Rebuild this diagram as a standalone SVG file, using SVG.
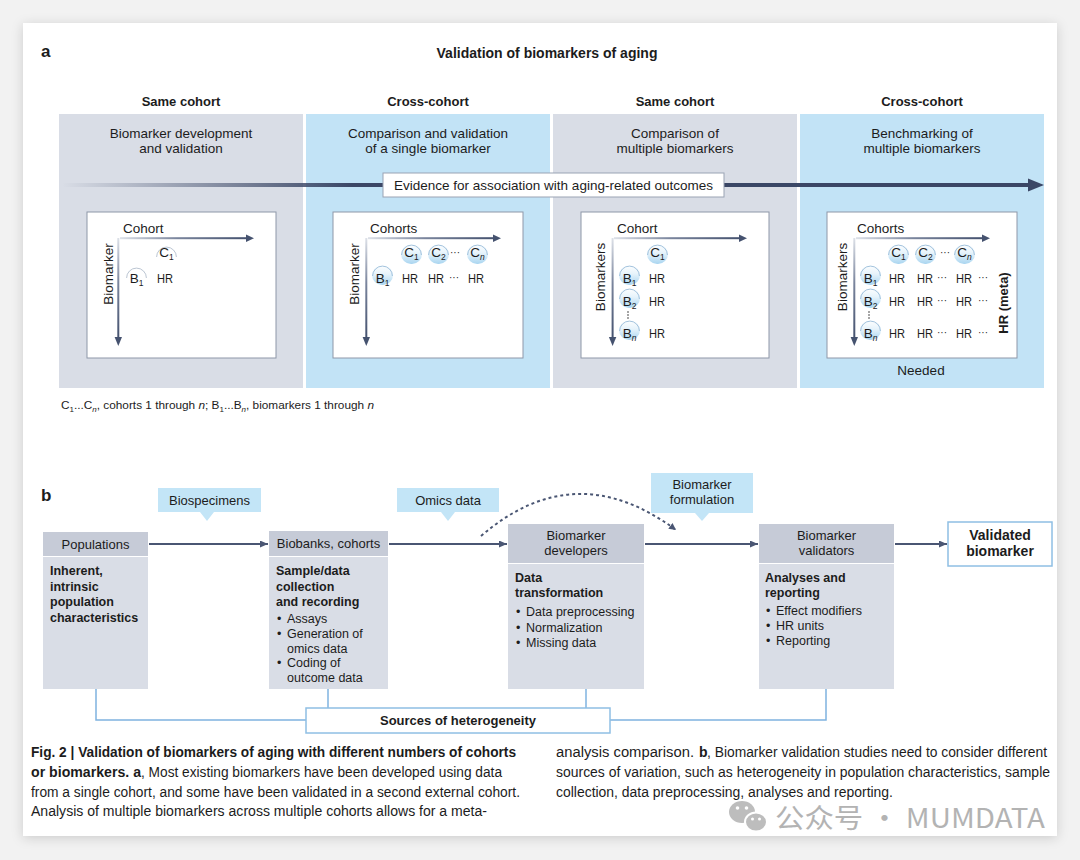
<svg xmlns="http://www.w3.org/2000/svg" width="1080" height="860" viewBox="0 0 1080 860">
<defs>
<style>
.t{font-family:"Liberation Sans",Arial,sans-serif;fill:#1c1c1c}
.b{font-weight:bold}
.s13{font-size:13.5px}
.s12{font-size:12.5px}
.m{text-anchor:middle}
.col-g{fill:#d9dde6}
.col-b{fill:#c2e3f6}
.inner{fill:#fff;stroke:#8e97a8;stroke-width:1}
.hdr{fill:#c6cbd7}
.body{fill:#d9dde6}
.call{fill:#c3e5f7}
.het{fill:none;stroke:#7fb3e0;stroke-width:1.5}
.flow{stroke:#4a5673;stroke-width:2;fill:none}
.ax{fill:#45526f}
</style>
<filter id="sh" x="-5%" y="-5%" width="110%" height="110%">
<feDropShadow dx="0" dy="2" stdDeviation="6" flood-color="#000" flood-opacity="0.16"/>
</filter>
<linearGradient id="gEv" x1="0" y1="0" x2="1" y2="0">
<stop offset="0" stop-color="#3b4766" stop-opacity="0"/>
<stop offset="0.3" stop-color="#3b4766" stop-opacity="1"/>
<stop offset="1" stop-color="#3b4766"/>
</linearGradient>
<linearGradient id="gh" x1="0" y1="0" x2="1" y2="0">
<stop offset="0" stop-color="#dde1e8"/>
<stop offset="0.45" stop-color="#7a859d"/>
<stop offset="1" stop-color="#45526f"/>
</linearGradient>
<linearGradient id="gv" x1="0" y1="0" x2="0" y2="1">
<stop offset="0" stop-color="#dde1e8"/>
<stop offset="0.45" stop-color="#7a859d"/>
<stop offset="1" stop-color="#45526f"/>
</linearGradient>
<linearGradient id="gb" x1="0" y1="0" x2="0" y2="1">
<stop offset="0" stop-color="#ffffff"/>
<stop offset="0.45" stop-color="#e6f3fb"/>
<stop offset="1" stop-color="#a9d5f0"/>
</linearGradient>
<g id="bub"><rect width="21" height="20" rx="10" fill="url(#gb)"/><path d="M0.6,11 A9.9,9.9 0 0 1 20.4,11" fill="none" stroke="#8db4d4" stroke-width="0.8"/></g>
<g id="bubw"><path d="M0.6,13 A9.9,9.9 0 0 1 20.4,13" fill="none" stroke="#aab6c6" stroke-width="0.8"/></g>
<marker id="ah" markerWidth="9" markerHeight="8" refX="8" refY="3.5" orient="auto" markerUnits="userSpaceOnUse">
<path d="M0,0 L8,3.5 L0,7 z" fill="#4a5673"/>
</marker>
<marker id="ahd" markerWidth="9" markerHeight="9" refX="7" refY="3.5" orient="auto" markerUnits="userSpaceOnUse">
<path d="M0,0 L7,3.5 L0,7 z" fill="#4a5673"/>
</marker>
</defs>

<rect width="1080" height="860" fill="#f2f2f2"/>
<rect x="23" y="23" width="1034" height="813" fill="#fff" filter="url(#sh)"/>

<!-- Panel a -->
<g id="panel-a-title">
<text class="t b" x="41" y="57" font-size="17">a</text>
<text class="t b m" x="547" y="58" font-size="14">Validation of biomarkers of aging</text>
</g>

<g id="col1">
<text class="t b m" x="181" y="106" font-size="13">Same cohort</text>
<rect class="col-g" x="59" y="114" width="244" height="274"/>
<text class="t m s13" x="181" y="138">Biomarker development</text>
<text class="t m s13" x="181" y="153">and validation</text>
</g>
<g id="col2">
<text class="t b m" x="428" y="106" font-size="13">Cross-cohort</text>
<rect class="col-b" x="306" y="114" width="244" height="274"/>
<text class="t m s13" x="428" y="138">Comparison and validation</text>
<text class="t m s13" x="428" y="153">of a single biomarker</text>
</g>
<g id="col3">
<text class="t b m" x="675" y="106" font-size="13">Same cohort</text>
<rect class="col-g" x="553" y="114" width="244" height="274"/>
<text class="t m s13" x="675" y="138">Comparison of</text>
<text class="t m s13" x="675" y="153">multiple biomarkers</text>
</g>
<g id="col4">
<text class="t b m" x="922" y="106" font-size="13">Cross-cohort</text>
<rect class="col-b" x="800" y="114" width="244" height="274"/>
<text class="t m s13" x="922" y="138">Benchmarking of</text>
<text class="t m s13" x="922" y="153">multiple biomarkers</text>
<text class="t m s13" x="921" y="375">Needed</text>
</g>

<g id="evidence-arrow">
<rect x="62" y="183" width="968" height="4" fill="url(#gEv)"/>
<polygon points="1028,178.5 1044,185 1028,191.5" fill="#3b4766"/>
<rect x="383" y="173" width="341" height="24" fill="#fff" stroke="#9aa3b3" stroke-width="1"/>
<text class="t m s13" x="553.5" y="190">Evidence for association with aging-related outcomes</text>
</g>

<!-- inner box 1 -->
<g id="box1">
<rect class="inner" x="87" y="212" width="189" height="146"/>
<text class="t s13" x="123" y="233">Cohort</text>
<rect x="120" y="237.2" width="127" height="2" fill="url(#gh)"/>
<polygon class="ax" points="246,234.5 254,238.2 246,242"/>
<rect x="117.3" y="238" width="2" height="100" fill="url(#gv)"/>
<polygon class="ax" points="114.6,337 118.3,346 122,337"/>
<text class="t m s13" transform="translate(108,274) rotate(-90)" dominant-baseline="central">Biomarker</text>
<use href="#bubw" x="156" y="244"/>
<text class="t m s13" x="166.5" y="257">C<tspan font-size="8.5" dy="2.5">1</tspan></text>
<use href="#bubw" x="126" y="265"/>
<text class="t m s13" x="136.5" y="283">B<tspan font-size="8.5" dy="2.5">1</tspan></text>
<text class="t s13" x="157" y="283" textLength="16" lengthAdjust="spacingAndGlyphs">HR</text>
</g>

<!-- inner box 2 -->
<g id="box2">
<rect class="inner" x="333" y="212" width="190" height="146"/>
<text class="t s13" x="370" y="233">Cohorts</text>
<rect x="368" y="237.2" width="126" height="2" fill="url(#gh)"/>
<polygon class="ax" points="493,234.5 501,238.2 493,242"/>
<rect x="365.3" y="238" width="2" height="100" fill="url(#gv)"/>
<polygon class="ax" points="362.6,337 366.3,346 370,337"/>
<text class="t m s13" transform="translate(354,274) rotate(-90)" dominant-baseline="central">Biomarker</text>
<use href="#bub" x="401" y="244"/>
<text class="t m s13" x="411.5" y="257">C<tspan font-size="8.5" dy="2.5">1</tspan></text>
<use href="#bub" x="428" y="244"/>
<text class="t m s13" x="438.5" y="257">C<tspan font-size="8.5" dy="2.5">2</tspan></text>
<text class="t" x="450" y="256" font-size="10">···</text>
<use href="#bub" x="467" y="244"/>
<text class="t m s13" x="477.5" y="257">C<tspan font-size="8.5" dy="2.5" font-style="italic">n</tspan></text>
<use href="#bub" x="372" y="265"/>
<text class="t m s13" x="382.5" y="283">B<tspan font-size="8.5" dy="2.5">1</tspan></text>
<g class="t s13">
<text x="402" y="283" textLength="16" lengthAdjust="spacingAndGlyphs">HR</text>
<text x="428" y="283" textLength="16" lengthAdjust="spacingAndGlyphs">HR</text>
<text x="468" y="283" textLength="16" lengthAdjust="spacingAndGlyphs">HR</text>
</g>
<text class="t" x="449" y="281" font-size="10">···</text>
</g>

<!-- inner box 3 -->
<g id="box3">
<rect class="inner" x="581" y="212" width="188" height="146"/>
<text class="t s13" x="617" y="233">Cohort</text>
<rect x="614" y="237.2" width="126" height="2" fill="url(#gh)"/>
<polygon class="ax" points="739,234.5 747,238.2 739,242"/>
<rect x="611.6" y="238" width="2" height="100" fill="url(#gv)"/>
<polygon class="ax" points="608.9,337 612.6,346 616.3,337"/>
<text class="t m s13" transform="translate(600,277) rotate(-90)" dominant-baseline="central">Biomarkers</text>
<use href="#bub" x="647" y="244"/>
<text class="t m s13" x="657.5" y="257">C<tspan font-size="8.5" dy="2.5">1</tspan></text>
<use href="#bub" x="619" y="265"/>
<text class="t m s13" x="629.5" y="283">B<tspan font-size="8.5" dy="2.5">1</tspan></text>
<use href="#bub" x="619" y="288"/>
<text class="t m s13" x="629.5" y="306">B<tspan font-size="8.5" dy="2.5">2</tspan></text>
<circle cx="628" cy="312" r="0.8" fill="#333"/><circle cx="628" cy="315" r="0.8" fill="#333"/><circle cx="628" cy="318" r="0.8" fill="#333"/>
<use href="#bub" x="619" y="320"/>
<text class="t m s13" x="629.5" y="338">B<tspan font-size="8.5" dy="2.5" font-style="italic">n</tspan></text>
<g class="t s13">
<text x="649" y="283" textLength="16" lengthAdjust="spacingAndGlyphs">HR</text>
<text x="649" y="306" textLength="16" lengthAdjust="spacingAndGlyphs">HR</text>
<text x="649" y="338" textLength="16" lengthAdjust="spacingAndGlyphs">HR</text>
</g>
</g>

<!-- inner box 4 -->
<g id="box4">
<rect class="inner" x="827" y="212" width="190" height="146"/>
<text class="t s13" x="857" y="233">Cohorts</text>
<rect x="856" y="237.2" width="127" height="2" fill="url(#gh)"/>
<polygon class="ax" points="982,234.5 990,238.2 982,242"/>
<rect x="853.3" y="238" width="2" height="100" fill="url(#gv)"/>
<polygon class="ax" points="850.6,337 854.3,346 858,337"/>
<text class="t m s13" transform="translate(842,277) rotate(-90)" dominant-baseline="central">Biomarkers</text>
<use href="#bub" x="888" y="244"/>
<text class="t m s13" x="898.5" y="257">C<tspan font-size="8.5" dy="2.5">1</tspan></text>
<use href="#bub" x="915" y="244"/>
<text class="t m s13" x="925.5" y="257">C<tspan font-size="8.5" dy="2.5">2</tspan></text>
<text class="t" x="940" y="256" font-size="10">···</text>
<use href="#bub" x="954" y="244"/>
<text class="t m s13" x="964.5" y="257">C<tspan font-size="8.5" dy="2.5" font-style="italic">n</tspan></text>
<use href="#bub" x="860" y="265"/>
<text class="t m s13" x="870.5" y="283">B<tspan font-size="8.5" dy="2.5">1</tspan></text>
<use href="#bub" x="860" y="288"/>
<text class="t m s13" x="870.5" y="306">B<tspan font-size="8.5" dy="2.5">2</tspan></text>
<circle cx="869" cy="312" r="0.8" fill="#333"/><circle cx="869" cy="315" r="0.8" fill="#333"/><circle cx="869" cy="318" r="0.8" fill="#333"/>
<use href="#bub" x="860" y="320"/>
<text class="t m s13" x="870.5" y="338">B<tspan font-size="8.5" dy="2.5" font-style="italic">n</tspan></text>
<g class="t s13">
<text x="889" y="283" textLength="16" lengthAdjust="spacingAndGlyphs">HR</text><text x="917" y="283" textLength="16" lengthAdjust="spacingAndGlyphs">HR</text><text x="956" y="283" textLength="16" lengthAdjust="spacingAndGlyphs">HR</text>
<text x="889" y="306" textLength="16" lengthAdjust="spacingAndGlyphs">HR</text><text x="917" y="306" textLength="16" lengthAdjust="spacingAndGlyphs">HR</text><text x="956" y="306" textLength="16" lengthAdjust="spacingAndGlyphs">HR</text>
<text x="889" y="338" textLength="16" lengthAdjust="spacingAndGlyphs">HR</text><text x="917" y="338" textLength="16" lengthAdjust="spacingAndGlyphs">HR</text><text x="956" y="338" textLength="16" lengthAdjust="spacingAndGlyphs">HR</text>
</g>
<g class="t" font-size="10">
<text x="937" y="281">···</text><text x="978" y="281">···</text>
<text x="937" y="304">···</text><text x="978" y="304">···</text>
<text x="937" y="336">···</text><text x="978" y="336">···</text>
</g>
<text class="t b m" font-size="13" transform="translate(1003,303) rotate(-90)" dominant-baseline="central">HR (meta)</text>
</g>

<g id="footnote">
<text class="t" x="61" y="409" font-size="11.8">C<tspan dy="2.5" font-size="8">1</tspan><tspan dy="-2.5">...C</tspan><tspan dy="2.5" font-size="8" font-style="italic">n</tspan><tspan dy="-2.5">, cohorts 1 through </tspan><tspan font-style="italic">n</tspan>; B<tspan dy="2.5" font-size="8">1</tspan><tspan dy="-2.5">...B</tspan><tspan dy="2.5" font-size="8" font-style="italic">n</tspan><tspan dy="-2.5">, biomarkers 1 through </tspan><tspan font-style="italic">n</tspan></text>
</g>

<!-- Panel b -->
<text class="t b" x="41" y="501" font-size="17">b</text>

<g id="connectors">
<line class="flow" x1="149" y1="544" x2="268" y2="544" marker-end="url(#ah)"/>
<line class="flow" x1="389" y1="544" x2="507" y2="544" marker-end="url(#ah)"/>
<line class="flow" x1="645" y1="544" x2="758" y2="544" marker-end="url(#ah)"/>
<line class="flow" x1="895" y1="544" x2="947" y2="544" marker-end="url(#ah)" stroke-width="2.5"/>
<path class="flow" d="M481,536 Q575,455 676,530" stroke-dasharray="3,3" marker-end="url(#ahd)"/>
<polyline class="het" points="96,689 96,720 306,720"/>
<line class="het" x1="328" y1="689" x2="328" y2="708"/>
<line class="het" x1="586" y1="689" x2="586" y2="708"/>
<polyline class="het" points="826,689 826,720 610,720"/>
</g>

<g id="callout-biospecimens">
<path class="call" d="M158,488 H261 V512 H214 L207,521 L200,512 H158 Z"/>
<text class="t m" x="209.5" y="505" font-size="13">Biospecimens</text>
</g>
<g id="callout-omics">
<path class="call" d="M397,488 H499 V512 H455 L448,521 L441,512 H397 Z"/>
<text class="t m" x="448" y="505" font-size="13">Omics data</text>
</g>
<g id="callout-formulation">
<path class="call" d="M651,473 H753 V513 H709 L702,521 L695,513 H651 Z"/>
<text class="t m" x="702" y="489" font-size="13">Biomarker</text>
<text class="t m" x="702" y="504" font-size="13">formulation</text>
</g>

<g id="node-populations">
<rect class="hdr" x="43" y="532" width="105" height="24"/>
<rect class="body" x="43" y="557" width="105" height="132"/>
<text class="t m" x="95.5" y="549" font-size="13">Populations</text>
<g class="t b s12">
<text x="50" y="575">Inherent,</text>
<text x="50" y="590.5">intrinsic</text>
<text x="50" y="606">population</text>
<text x="50" y="621.5">characteristics</text>
</g>
</g>

<g id="node-biobanks">
<rect class="hdr" x="269" y="531" width="119" height="25"/>
<rect class="body" x="269" y="557" width="119" height="132"/>
<text class="t m" x="328.5" y="548" font-size="13">Biobanks, cohorts</text>
<g class="t b s12">
<text x="276" y="575">Sample/data</text>
<text x="276" y="590.5">collection</text>
<text x="276" y="606">and recording</text>
</g>
<g class="t s12">
<text x="277" y="623">•</text><text x="287" y="623">Assays</text>
<text x="277" y="638">•</text><text x="287" y="638">Generation of</text>
<text x="287" y="653">omics data</text>
<text x="277" y="667">•</text><text x="287" y="667">Coding of</text>
<text x="287" y="682">outcome data</text>
</g>
</g>

<g id="node-developers">
<rect class="hdr" x="508" y="524" width="136" height="39"/>
<rect class="body" x="508" y="564" width="136" height="125"/>
<text class="t m" x="576" y="540" font-size="13">Biomarker</text>
<text class="t m" x="576" y="555" font-size="13">developers</text>
<g class="t b s12">
<text x="515" y="582">Data</text>
<text x="515" y="597">transformation</text>
</g>
<g class="t s12">
<text x="516" y="615.5">•</text><text x="526" y="615.5">Data preprocessing</text>
<text x="516" y="632">•</text><text x="526" y="632">Normalization</text>
<text x="516" y="647">•</text><text x="526" y="647">Missing data</text>
</g>
</g>

<g id="node-validators">
<rect class="hdr" x="759" y="524" width="135" height="39"/>
<rect class="body" x="759" y="564" width="135" height="125"/>
<text class="t m" x="826.5" y="540" font-size="13">Biomarker</text>
<text class="t m" x="826.5" y="555" font-size="13">validators</text>
<g class="t b s12">
<text x="765" y="582">Analyses and</text>
<text x="765" y="597">reporting</text>
</g>
<g class="t s12">
<text x="766" y="615">•</text><text x="776" y="615">Effect modifiers</text>
<text x="766" y="630">•</text><text x="776" y="630">HR units</text>
<text x="766" y="645">•</text><text x="776" y="645">Reporting</text>
</g>
</g>

<g id="node-validated">
<rect x="948" y="522" width="104" height="44" fill="#fff" stroke="#8fbfe4" stroke-width="1.5"/>
<text class="t b m" x="1000" y="540" font-size="14">Validated</text>
<text class="t b m" x="1000" y="556" font-size="14">biomarker</text>
</g>

<g id="node-heterogeneity">
<rect x="306" y="708" width="304" height="25" fill="#fff" stroke="#8fbfe4" stroke-width="1.5"/>
<text class="t b m" x="458" y="725" font-size="13">Sources of heterogeneity</text>
</g>

<g id="caption" font-size="14">
<text class="t b" x="31" y="757" textLength="485" lengthAdjust="spacingAndGlyphs">Fig. 2 | Validation of biomarkers of aging with different numbers of cohorts</text>
<text class="t b" x="31" y="777" textLength="110" lengthAdjust="spacingAndGlyphs">or biomarkers. a</text>
<text class="t" x="141" y="777" textLength="361" lengthAdjust="spacingAndGlyphs">, Most existing biomarkers have been developed using data</text>
<text class="t" x="31" y="797" textLength="489" lengthAdjust="spacingAndGlyphs">from a single cohort, and some have been validated in a second external cohort.</text>
<text class="t" x="31" y="816" textLength="456" lengthAdjust="spacingAndGlyphs">Analysis of multiple biomarkers across multiple cohorts allows for a meta-</text>
<text class="t" x="556" y="757" textLength="138" lengthAdjust="spacingAndGlyphs">analysis comparison.</text>
<text class="t b" x="699" y="757">b</text>
<text class="t" x="707" y="757" textLength="340" lengthAdjust="spacingAndGlyphs">, Biomarker validation studies need to consider different</text>
<text class="t" x="556" y="777" textLength="494" lengthAdjust="spacingAndGlyphs">sources of variation, such as heterogeneity in population characteristics, sample</text>
<text class="t" x="556" y="797" textLength="337" lengthAdjust="spacingAndGlyphs">collection, data preprocessing, analyses and reporting.</text>
</g>

<g id="watermark">
<ellipse cx="742" cy="812" rx="13" ry="11" fill="#bdbdbd"/>
<circle cx="737.5" cy="808" r="1.8" fill="#fff"/><circle cx="746.5" cy="808" r="1.8" fill="#fff"/>
<ellipse cx="756" cy="822" rx="11" ry="9.5" fill="#bdbdbd" stroke="#fff" stroke-width="2"/>
<circle cx="752.5" cy="819" r="1.5" fill="#fff"/><circle cx="759.5" cy="819" r="1.5" fill="#fff"/>
<text x="775" y="828" font-family="'Noto Sans CJK SC','Noto Sans',sans-serif" font-size="27" fill="#b3b3b3" textLength="270" lengthAdjust="spacingAndGlyphs">公众号 · MUMDATA</text>
</g>
</svg>
